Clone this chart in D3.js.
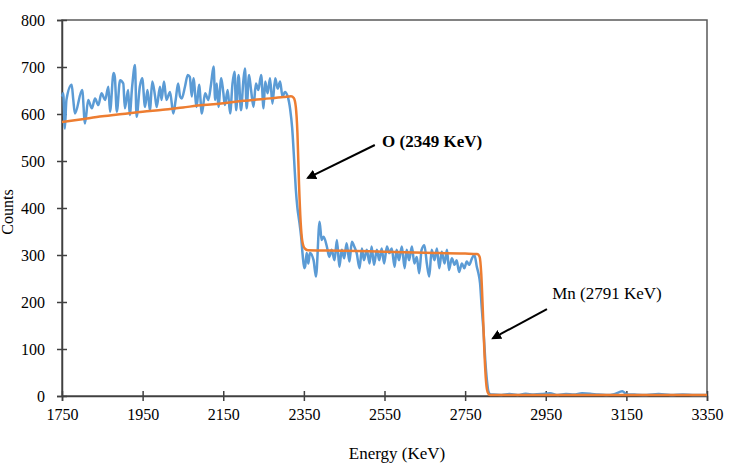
<!DOCTYPE html>
<html>
<head>
<meta charset="utf-8">
<script src="https://cdn.jsdelivr.net/npm/d3@7"></script>
<style>
  body { margin: 0; background: #fff; }
  text { font-family: "Liberation Serif", "Times New Roman", serif; fill: #000; }
</style>
</head>
<body>
<svg width="729" height="468"></svg>
<script>
var measuredE = [1750,1753,1757,1761,1774,1778,1782,1800,1807,1815,1824,1832,1840,1848,1857,1865,1869,1878,1881,1886,1894,1902,1906,1914,1918,1924,1931,1935,1943,1949,1956,1962,1968,1974,1981,1985,1993,1997,2003,2009,2018,2026,2032,2038,2043,
  2047,2055,2062,2067,2072,2076,2084,2090,2097,2105,2113,2120,2126,2130,2134,2138,2145,2150,2154,2161,2167,2173,2178,2182,2188,2194,2200,2204,2208,2214,2219,2225,2231,2237,2244,2250,2254,2260,2266,2272,2279,2285,2291,2297,2303,2310,
  2316,2321,2326,2330,2334,2338,2343,2347,2351,2353,2357,2361,2365,2374,2380,2389,2394,2399,2407,2413,2419,2426,2432,2438,2444,2450,2456,2463,2469,2475,2481,2488,2494,2499,2506,2513,2518,2524,2531,2537,2543,2549,2556,2562,
  2568,2575,2580,2586,2593,2600,2605,2611,2618,2624,2630,2636,2642,2649,2655,2661,2667,2674,2680,2686,2692,2699,2705,2710,2717,2724,2729,2735,2742,2748,2754,2760,2767,2773,2779,2783,2787,2791,2796,2800,2804,2808,2812,
  2820,2840,2860,2880,2900,2920,2940,2960,2980,3000,3020,3040,3060,3080,3100,3120,3140,3150,3170,3200,3230,3260,3290,3320,3350];
var measuredCounts = [637,644,569,630,662,630,601,651,580,630,612,633,619,644,630,658,605,687,679,605,672,665,612,651,598,658,704,594,658,676,615,651,608,669,637,615,658,630,669,630,647,601,630,665,637,
  633,658,683,679,637,676,615,662,601,644,630,665,701,630,665,615,676,647,619,651,601,665,690,608,683,608,672,697,612,683,651,615,665,651,683,612,669,644,676,622,676,654,669,637,647,637,
  610,570,500,440,400,375,340,300,272,275,304,282,304,289,254,371,332,339,318,296,311,289,332,275,311,293,325,286,328,318,304,272,314,289,311,282,318,279,311,289,314,282,318,304,
  314,275,311,289,318,272,311,289,318,282,296,261,311,321,282,254,311,289,314,272,307,282,311,268,293,279,289,264,282,272,286,279,293,300,275,261,240,190,133,76,34,9,4,
  3,2,4,2,5,3,4,6,2,4,3,6,5,3,2,4,10,4,3,2,4,2,3,2,2];

// fitted curve
var fitE = [1750,1800,1850,1900,1950,2000,2050,2100,2150,2200,2250,2300,2318,2325,2330,2334,2338,2342,2346,2352,2360,2450,2550,2650,2750,2780,2786,2790,2794,2798,2802,2806,2812,3350];
var fitCounts = [583,589,595,600,605,609,614,619,623,628,632,636,638,634,615,560,450,370,330,314,310,309,307,305,303,302,296,260,180,90,30,8,2,2];

var xTicks = [1750,1950,2150,2350,2550,2750,2950,3150,3350];
var yTicks = [0,100,200,300,400,500,600,700,800];

// annotations: label, text anchor (E, counts), arrow tail, arrow tip
var notes = [
  { label: "O (2349 KeV)", tx: 2544, ty: 543, x1: 2526, y1: 534, x2: 2360, y2: 464, bold: true },
  { label: "Mn (2791 KeV)", tx: 2966, ty: 219, x1: 2953, y1: 185, x2: 2819, y2: 123, bold: false }
];

var svg = d3.select("svg");

var x = d3.scaleLinear().domain([1750, 3350]).range([62, 707]);
var y = d3.scaleLinear().domain([0, 800]).range([396, 20]);

// plot border
svg.append("rect")
    .attr("x", x(1750)).attr("y", y(800))
    .attr("width", x(3350) - x(1750)).attr("height", y(0) - y(800))
    .attr("fill", "none").attr("stroke", "#595959").attr("stroke-width", 1.5);

var xAxis = svg.append("g")
    .attr("transform", "translate(0," + y(0) + ")")
    .call(d3.axisBottom(x).tickValues(xTicks).tickFormat(d3.format("d")).tickSize(5).tickPadding(8));
xAxis.selectAll(".tick line").attr("y1", -5).attr("y2", 5);

var yAxis = svg.append("g")
    .attr("transform", "translate(" + x(1750) + ",0)")
    .call(d3.axisLeft(y).tickValues(yTicks).tickSize(5).tickPadding(12));
yAxis.selectAll(".tick line").attr("x1", -5).attr("x2", 5);

svg.selectAll(".domain").attr("stroke", "#404040").attr("stroke-width", 1.5);
svg.selectAll(".tick line").attr("stroke", "#404040").attr("stroke-width", 1.5);
svg.selectAll(".tick text").style("font-family", "Liberation Serif").style("font-size", "16px").attr("fill", "#000");

var measured = d3.zip(measuredE, measuredCounts);
var fit = d3.zip(fitE, fitCounts);

var line = d3.line().x(function (d) { return x(d[0]); }).y(function (d) { return y(d[1]); });

svg.append("path")
    .datum(measured)
    .attr("fill", "none")
    .attr("stroke", "#5B9BD5")
    .attr("stroke-width", 2.5)
    .attr("stroke-linejoin", "round")
    .attr("d", line.curve(d3.curveMonotoneX));

svg.append("path")
    .datum(fit)
    .attr("fill", "none")
    .attr("stroke", "#ED7D31")
    .attr("stroke-width", 2.5)
    .attr("d", line.curve(d3.curveMonotoneX));

// arrow head
svg.append("defs").append("marker")
    .attr("id", "head")
    .attr("viewBox", "0 0 10 10")
    .attr("refX", 8).attr("refY", 5)
    .attr("markerWidth", 5).attr("markerHeight", 5)
    .attr("orient", "auto")
  .append("path")
    .attr("d", "M0,0L10,5L0,10z")
    .attr("fill", "#000");

svg.selectAll(".arrow")
    .data(notes)
    .enter().append("line")
    .attr("class", "arrow")
    .attr("x1", function (d) { return x(d.x1); })
    .attr("y1", function (d) { return y(d.y1); })
    .attr("x2", function (d) { return x(d.x2); })
    .attr("y2", function (d) { return y(d.y2); })
    .attr("stroke", "#000")
    .attr("stroke-width", 2)
    .attr("marker-end", "url(#head)");

svg.selectAll(".note")
    .data(notes)
    .enter().append("text")
    .attr("class", "note")
    .attr("x", function (d) { return x(d.tx); })
    .attr("y", function (d) { return y(d.ty); })
    .attr("dy", "0.35em")
    .style("font-size", "17px")
    .style("font-weight", function (d) { return d.bold ? "bold" : "normal"; })
    .text(function (d) { return d.label; });

// axis titles
svg.append("text")
    .attr("x", 397).attr("y", 459)
    .attr("text-anchor", "middle")
    .style("font-size", "17px")
    .text("Energy (KeV)");

svg.append("text")
    .attr("transform", "translate(13,212) rotate(-90)")
    .attr("text-anchor", "middle")
    .style("font-size", "16px")
    .text("Counts");
</script>
</body>
</html>
